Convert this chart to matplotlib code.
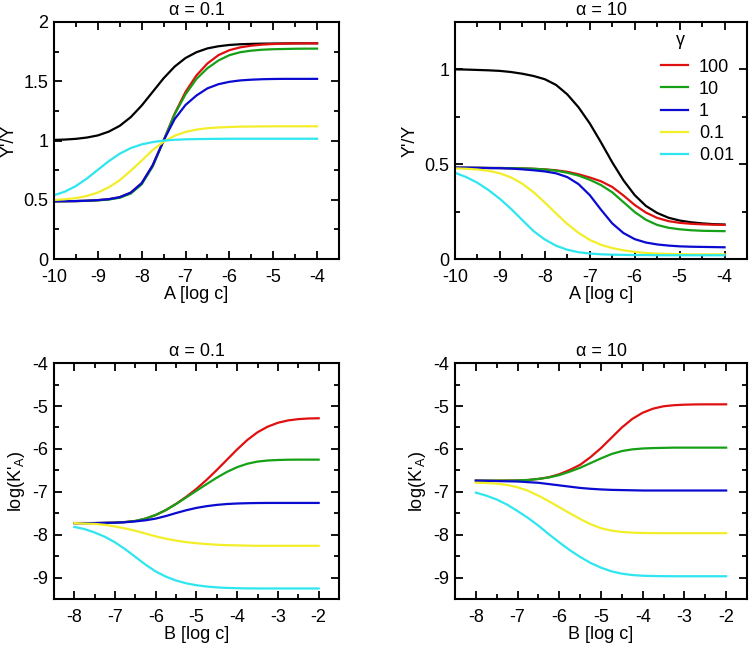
import numpy as np
import matplotlib
matplotlib.use("Agg")
import matplotlib.pyplot as plt
from matplotlib.ticker import MultipleLocator, FormatStrFormatter

plt.rcParams['font.family'] = ['Liberation Sans', 'DejaVu Sans']
plt.rcParams['font.size'] = 13
plt.rcParams['axes.unicode_minus'] = False
plt.rcParams['mathtext.default'] = 'regular'

# concentration grids (log units)
a_log = [-10, -9.75, -9.5, -9.25, -9, -8.75, -8.5, -8.25, -8, -7.75, -7.5, -7.25, -7,
         -6.75, -6.5, -6.25, -6, -5.75, -5.5, -5.25, -5, -4.75, -4.5, -4.25, -4]
b_log = [-8, -7.75, -7.5, -7.25, -7, -6.75, -6.5, -6.25, -6, -5.75, -5.5, -5.25, -5,
         -4.75, -4.5, -4.25, -4, -3.75, -3.5, -3.25, -3, -2.75, -2.5, -2.25, -2]

gamma_labels = ['100', '10', '1', '0.1', '0.01']
colors = ['#e01010', '#15a015', '#0a0ad0', '#f2ee2a', '#2ee6f0']

# alpha = 0.1, Y'/Y vs A
tl_black = [1.005, 1.008, 1.014, 1.025, 1.043, 1.075, 1.124, 1.197, 1.295, 1.41, 1.525, 1.623, 1.696,
            1.745, 1.777, 1.795, 1.806, 1.812, 1.815, 1.817, 1.818, 1.819, 1.82, 1.82, 1.82]
tl_red = [0.487, 0.488, 0.489, 0.492, 0.497, 0.505, 0.522, 0.56, 0.64, 0.79, 1.0, 1.225, 1.41,
          1.55, 1.65, 1.72, 1.762, 1.786, 1.80, 1.809, 1.814, 1.817, 1.819, 1.82, 1.82]
tl_green = [0.487, 0.488, 0.489, 0.491, 0.495, 0.502, 0.517, 0.552, 0.63, 0.78, 1.0, 1.22, 1.39,
            1.52, 1.61, 1.675, 1.72, 1.745, 1.758, 1.766, 1.77, 1.772, 1.774, 1.775, 1.775]
tl_blue = [0.487, 0.488, 0.489, 0.492, 0.497, 0.505, 0.522, 0.56, 0.64, 0.79, 1.0, 1.18, 1.30,
           1.38, 1.44, 1.475, 1.495, 1.507, 1.513, 1.517, 1.519, 1.52, 1.52, 1.52, 1.52]
tl_yellow = [0.498, 0.504, 0.514, 0.532, 0.561, 0.605, 0.665, 0.745, 0.83, 0.92, 0.99, 1.04, 1.072,
             1.092, 1.104, 1.11, 1.114, 1.117, 1.118, 1.119, 1.12, 1.12, 1.12, 1.12, 1.12]
tl_cyan = [0.538, 0.569, 0.616, 0.679, 0.753, 0.826, 0.889, 0.936, 0.967, 0.987, 0.999, 1.006, 1.01,
           1.012, 1.013, 1.014, 1.015, 1.015, 1.015, 1.015, 1.015, 1.015, 1.015, 1.015, 1.015]

# alpha = 10, Y'/Y vs A
tr_black = [1.0, 0.999, 0.997, 0.995, 0.992, 0.986, 0.977, 0.965, 0.948, 0.918, 0.868, 0.80, 0.715,
            0.615, 0.51, 0.415, 0.337, 0.28, 0.243, 0.218, 0.203, 0.194, 0.188, 0.184, 0.182]
tr_red = [0.482, 0.481, 0.481, 0.48, 0.48, 0.479, 0.478, 0.476, 0.473, 0.468, 0.46, 0.447, 0.43,
          0.41, 0.38, 0.335, 0.285, 0.245, 0.217, 0.2, 0.191, 0.186, 0.183, 0.181, 0.18]
tr_green = [0.482, 0.481, 0.481, 0.48, 0.48, 0.479, 0.478, 0.476, 0.472, 0.466, 0.455, 0.44, 0.418,
            0.39, 0.352, 0.30, 0.248, 0.207, 0.18, 0.165, 0.157, 0.152, 0.149, 0.148, 0.147]
tr_blue = [0.482, 0.482, 0.481, 0.48, 0.479, 0.477, 0.473, 0.468, 0.462, 0.452, 0.432, 0.395, 0.337,
           0.26, 0.188, 0.137, 0.105, 0.087, 0.077, 0.071, 0.067, 0.065, 0.064, 0.063, 0.062]
tr_yellow = [0.478, 0.476, 0.472, 0.465, 0.452, 0.43, 0.397, 0.352, 0.298, 0.24, 0.185, 0.138, 0.101,
             0.075, 0.058, 0.046, 0.038, 0.032, 0.029, 0.027, 0.026, 0.025, 0.025, 0.025, 0.025]
tr_cyan = [0.455, 0.432, 0.402, 0.363, 0.317, 0.264, 0.205, 0.147, 0.103, 0.07, 0.049, 0.036, 0.029,
           0.025, 0.023, 0.022, 0.021, 0.021, 0.02, 0.02, 0.02, 0.02, 0.02, 0.02, 0.02]

# alpha = 0.1, log(K'A) vs B
bl_red = [-7.73, -7.73, -7.73, -7.725, -7.72, -7.705, -7.68, -7.625, -7.54, -7.425, -7.28, -7.115, -6.93,
          -6.72, -6.49, -6.25, -6.01, -5.79, -5.61, -5.48, -5.39, -5.335, -5.305, -5.29, -5.285]
bl_green = [-7.73, -7.73, -7.73, -7.725, -7.72, -7.705, -7.68, -7.625, -7.54, -7.425, -7.285, -7.13, -6.975,
            -6.82, -6.67, -6.535, -6.425, -6.345, -6.295, -6.27, -6.258, -6.252, -6.25, -6.25, -6.25]
bl_blue = [-7.73, -7.73, -7.73, -7.725, -7.72, -7.71, -7.69, -7.665, -7.625, -7.565, -7.495, -7.43, -7.375,
           -7.335, -7.305, -7.285, -7.273, -7.266, -7.262, -7.26, -7.26, -7.26, -7.26, -7.26, -7.26]
bl_yellow = [-7.73, -7.74, -7.75, -7.77, -7.81, -7.855, -7.91, -7.975, -8.04, -8.095, -8.14, -8.175, -8.2,
             -8.22, -8.235, -8.245, -8.25, -8.255, -8.26, -8.26, -8.26, -8.26, -8.26, -8.26, -8.26]
bl_cyan = [-7.82, -7.87, -7.95, -8.05, -8.18, -8.34, -8.52, -8.70, -8.86, -8.98, -9.07, -9.135, -9.18,
           -9.21, -9.23, -9.242, -9.249, -9.253, -9.255, -9.255, -9.255, -9.255, -9.255, -9.255, -9.255]

# alpha = 10, log(K'A) vs B
br_red = [-6.74, -6.74, -6.74, -6.738, -6.735, -6.725, -6.70, -6.66, -6.59, -6.49, -6.37, -6.19, -5.98,
          -5.74, -5.5, -5.3, -5.155, -5.06, -5.005, -4.98, -4.968, -4.962, -4.96, -4.96, -4.96]
br_green = [-6.74, -6.74, -6.74, -6.738, -6.735, -6.725, -6.70, -6.665, -6.61, -6.53, -6.44, -6.33, -6.22,
            -6.12, -6.05, -6.01, -5.99, -5.98, -5.975, -5.97, -5.97, -5.97, -5.97, -5.97, -5.97]
br_blue = [-6.74, -6.745, -6.75, -6.755, -6.76, -6.775, -6.79, -6.82, -6.85, -6.88, -6.91, -6.93, -6.945,
           -6.955, -6.96, -6.965, -6.97, -6.97, -6.97, -6.97, -6.97, -6.97, -6.97, -6.97, -6.97]
br_yellow = [-6.79, -6.795, -6.81, -6.84, -6.895, -6.975, -7.09, -7.22, -7.36, -7.5, -7.635, -7.755, -7.85,
             -7.905, -7.937, -7.953, -7.96, -7.964, -7.965, -7.965, -7.965, -7.965, -7.965, -7.965, -7.965]
br_cyan = [-7.02, -7.09, -7.18, -7.30, -7.45, -7.61, -7.79, -7.99, -8.18, -8.36, -8.52, -8.66, -8.77,
           -8.855, -8.91, -8.942, -8.958, -8.965, -8.968, -8.97, -8.97, -8.97, -8.97, -8.97, -8.97]


def style_axes(ax, xmaj, xmin, ymaj, ymin):
    ax.xaxis.set_major_locator(MultipleLocator(xmaj))
    ax.xaxis.set_minor_locator(MultipleLocator(xmin))
    ax.yaxis.set_major_locator(MultipleLocator(ymaj))
    ax.yaxis.set_minor_locator(MultipleLocator(ymin))
    ax.xaxis.set_major_formatter(FormatStrFormatter('%g'))
    ax.yaxis.set_major_formatter(FormatStrFormatter('%g'))
    ax.tick_params(which='both', direction='in', top=True, right=True, width=1.3, labelsize=13)
    ax.tick_params(axis='x', pad=7)
    ax.tick_params(axis='y', pad=4)
    ax.tick_params(which='major', length=6)
    ax.tick_params(which='minor', length=3.5)
    for s in ax.spines.values():
        s.set_linewidth(1.5)


fig = plt.figure(figsize=(7.5, 6.46), dpi=100)
ax_tl = fig.add_axes([0.072, 0.599, 0.38, 0.367])
ax_tr = fig.add_axes([0.6067, 0.599, 0.3893, 0.367])
ax_bl = fig.add_axes([0.072, 0.0728, 0.38, 0.365])
ax_br = fig.add_axes([0.6067, 0.0728, 0.3893, 0.365])

lw = 1.6

# top left
ax_tl.plot(a_log, tl_black, color='black', lw=lw)
for ys, c in zip([tl_red, tl_green, tl_blue, tl_yellow, tl_cyan], colors):
    ax_tl.plot(a_log, ys, color=c, lw=lw)
ax_tl.set_xlim(-10, -3.5)
ax_tl.set_ylim(0, 2)
style_axes(ax_tl, 1, 0.5, 0.5, 0.25)
ax_tl.set_title('\u03b1 = 0.1', fontsize=13, pad=5)
ax_tl.set_xlabel('A [log c]', labelpad=0)
ax_tl.set_ylabel("Y'/Y")

# top right
ax_tr.plot(a_log, tr_black, color='black', lw=lw)
handles = []
for ys, c, lab in zip([tr_red, tr_green, tr_blue, tr_yellow, tr_cyan], colors, gamma_labels):
    h, = ax_tr.plot(a_log, ys, color=c, lw=lw, label=lab)
    handles.append(h)
ax_tr.set_xlim(-10, -3.5)
ax_tr.set_ylim(0, 1.25)
style_axes(ax_tr, 1, 0.5, 0.5, 0.25)
ax_tr.set_title('\u03b1 = 10', fontsize=13, pad=5)
ax_tr.set_xlabel('A [log c]', labelpad=0)
ax_tr.set_ylabel("Y'/Y")
ax_tr.legend(handles=handles, loc='upper left', bbox_to_anchor=(0.705, 0.845), frameon=False,
             borderpad=0, borderaxespad=0, handlelength=1.5, handletextpad=0.6,
             labelspacing=0.28, fontsize=13)
ax_tr.text(0.771, 0.92, '\u03b3', transform=ax_tr.transAxes, ha='center', va='center', fontsize=13)

# bottom left
for ys, c in zip([bl_red, bl_green, bl_blue, bl_yellow, bl_cyan], colors):
    ax_bl.plot(b_log, ys, color=c, lw=lw)
ax_bl.set_xlim(-8.5, -1.5)
ax_bl.set_ylim(-9.5, -4)
style_axes(ax_bl, 1, 0.5, 1, 0.5)
ax_bl.set_title('\u03b1 = 0.1', fontsize=13, pad=5)
ax_bl.set_xlabel('B [log c]', labelpad=0)
ax_bl.set_ylabel("log(K'$_{A}$)")

# bottom right
for ys, c in zip([br_red, br_green, br_blue, br_yellow, br_cyan], colors):
    ax_br.plot(b_log, ys, color=c, lw=lw)
ax_br.set_xlim(-8.5, -1.5)
ax_br.set_ylim(-9.5, -4)
style_axes(ax_br, 1, 0.5, 1, 0.5)
ax_br.set_title('\u03b1 = 10', fontsize=13, pad=5)
ax_br.set_xlabel('B [log c]', labelpad=0)
ax_br.set_ylabel("log(K'$_{A}$)")

fig.savefig('out.png', dpi=100)
